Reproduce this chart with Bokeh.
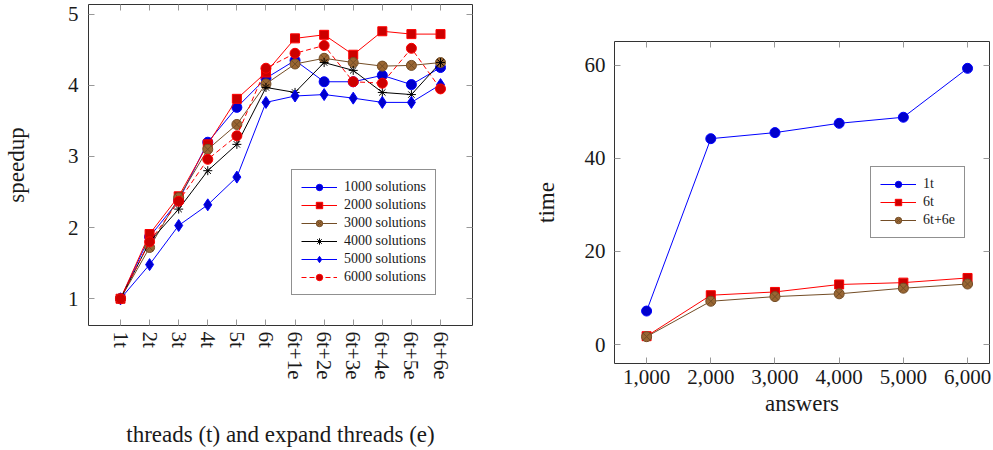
from bokeh.plotting import figure
from bokeh.models import (Range1d, FixedTicker, LinearAxis, Legend, LegendItem,
                          NumeralTickFormatter, CustomLabelingPolicy)
from bokeh.layouts import row
from bokeh.embed import file_html
from bokeh.resources import INLINE

# ---------------- data (left chart) ----------------
thread_labels = ["1t", "2t", "3t", "4t", "5t", "6t",
                 "6t+1e", "6t+2e", "6t+3e", "6t+4e", "6t+5e", "6t+6e"]
speedup_1000 = [1.0, 1.87, 2.38, 3.20, 3.69, 4.10, 4.35, 4.05, 4.05, 4.14, 4.01, 4.25]
speedup_2000 = [1.0, 1.91, 2.44, 3.17, 3.81, 4.18, 4.66, 4.71, 4.43, 4.76, 4.72, 4.72]
speedup_3000 = [1.0, 1.72, 2.42, 3.10, 3.45, 4.02, 4.30, 4.38, 4.32, 4.27, 4.28, 4.32]
speedup_4000 = [1.0, 1.80, 2.26, 2.80, 3.17, 3.97, 3.90, 4.32, 4.21, 3.90, 3.87, 4.32]
speedup_5000 = [1.0, 1.48, 2.03, 2.32, 2.71, 3.76, 3.85, 3.87, 3.82, 3.76, 3.76, 4.01]
speedup_6000 = [1.0, 1.80, 2.37, 2.96, 3.29, 4.24, 4.45, 4.56, 4.05, 4.03, 4.52, 3.95]
speedup_ticks = [1, 2, 3, 4, 5]

# ---------------- data (right chart) ----------------
answers = [1000, 2000, 3000, 4000, 5000, 6000]
time_1t = [7.2, 44.2, 45.5, 47.5, 48.8, 59.3]
time_6t = [1.8, 10.6, 11.3, 12.9, 13.3, 14.3]
time_6t6e = [1.7, 9.3, 10.3, 10.9, 12.1, 13.0]
time_ticks = [0, 20, 40, 60]

FONT = "Liberation Serif"
TICK_COLOR = "#999999"
TEXT_COLOR = "#1a1a1a"


def style_axis(ax):
    ax.major_label_text_font = FONT
    ax.major_label_text_font_size = "21px"
    ax.major_label_text_color = TEXT_COLOR
    ax.axis_label_text_font = FONT
    ax.axis_label_text_font_size = "23px"
    ax.axis_label_text_font_style = "normal"
    ax.axis_label_text_color = TEXT_COLOR
    ax.major_tick_in = 6
    ax.major_tick_out = 0
    ax.major_tick_line_color = TICK_COLOR
    ax.minor_tick_line_color = None
    ax.axis_line_color = None


def mirror_axis(ticker):
    # mirrored tick marks only (no labels drawn)
    ax = LinearAxis(ticker=ticker)
    ax.major_label_policy = CustomLabelingPolicy(code="return new Set()")
    ax.major_label_text_font_size = "1px"
    ax.major_label_standoff = 0
    ax.major_tick_in = 6
    ax.major_tick_out = 0
    ax.major_tick_line_color = TICK_COLOR
    ax.minor_tick_line_color = None
    ax.axis_line_color = None
    return ax


def base_fig(width, height, xr, yr, **kw):
    p = figure(width=width, height=height, x_range=xr, y_range=yr,
               output_backend="svg", toolbar_location=None, **kw)
    p.frame_align = False
    p.xgrid.visible = False
    p.ygrid.visible = False
    p.outline_line_color = "#333333"
    p.outline_line_width = 1
    p.background_fill_color = "white"
    p.border_fill_color = "white"
    return p


def make_legend(items, loc):
    lg = Legend(items=items, location=loc)
    lg.border_line_color = "#222222"
    lg.border_line_width = 1
    lg.background_fill_color = "white"
    lg.background_fill_alpha = 1
    lg.label_text_font = FONT
    lg.label_text_font_size = "14px"
    lg.label_text_color = TEXT_COLOR
    lg.glyph_width = 36
    lg.glyph_height = 16
    lg.label_height = 16
    lg.label_standoff = 7
    lg.spacing = 2
    lg.padding = 9
    lg.margin = 0
    return lg


# ---------------- left chart ----------------
xs = list(range(len(thread_labels)))
p1 = base_fig(476, 450, Range1d(-1.1, 12.1), Range1d(0.624, 5.136),
              min_border_left=86, min_border_right=0, min_border_top=4, min_border_bottom=123)

series_left = [
    ("1000 solutions", speedup_1000, "#0000FF", "circle", "#0000CC", "solid", 10),
    ("2000 solutions", speedup_2000, "#FF0000", "square", "#CC0000", "solid", 9),
    ("3000 solutions", speedup_3000, "#734D26", "circle_x", "#996633", "solid", 10),
    ("4000 solutions", speedup_4000, "#000000", "asterisk", "#000000", "solid", 9),
    ("5000 solutions", speedup_5000, "#0000FF", "diamond", "#0000CC", "solid", 12),
    ("6000 solutions", speedup_6000, "#FF0000", "circle", "#CC0000", "5 3", 10),
]
items_left = []
for name, ys, lc, mk, fc, dash, sz in series_left:
    lr = p1.line(xs, ys, line_color=lc, line_width=1, line_dash=dash)
    sr = p1.scatter(xs, ys, marker=mk, size=sz, fill_color=fc, line_color=lc, line_width=1)
    items_left.append(LegendItem(label=name, renderers=[lr, sr]))

xt1 = FixedTicker(ticks=xs)
yt1 = FixedTicker(ticks=speedup_ticks)
p1.xaxis.ticker = xt1
p1.xaxis.major_label_overrides = {i: lab for i, lab in enumerate(thread_labels)}
p1.xaxis.major_label_orientation = "vertical"
p1.xaxis.axis_label = "threads (t) and expand threads (e)"
p1.yaxis.ticker = yt1
p1.yaxis.axis_label = "speedup"
style_axis(p1.xaxis[0])
style_axis(p1.yaxis[0])
p1.xaxis.major_label_standoff = 6
p1.xaxis.axis_label_standoff = 40
p1.yaxis.major_label_standoff = 10
p1.yaxis.axis_label_standoff = 36
p1.add_layout(mirror_axis(xt1), "above")
p1.add_layout(mirror_axis(yt1), "right")
p1.add_layout(make_legend(items_left, (203, 30)))

# ---------------- right chart ----------------
p2 = base_fig(517, 450, Range1d(500, 6342), Range1d(-4.06, 65.06),
              min_border_left=138, min_border_right=0, min_border_top=41, min_border_bottom=87)

series_right = [
    ("1t", time_1t, "#0000FF", "circle", "#0000CC", 10),
    ("6t", time_6t, "#FF0000", "square", "#CC0000", 9),
    ("6t+6e", time_6t6e, "#734D26", "circle_x", "#996633", 10),
]
items_right = []
for name, ys, lc, mk, fc, sz in series_right:
    lr = p2.line(answers, ys, line_color=lc, line_width=1)
    sr = p2.scatter(answers, ys, marker=mk, size=sz, fill_color=fc, line_color=lc, line_width=1)
    items_right.append(LegendItem(label=name, renderers=[lr, sr]))

xt2 = FixedTicker(ticks=answers)
yt2 = FixedTicker(ticks=time_ticks)
p2.xaxis.ticker = xt2
p2.xaxis.formatter = NumeralTickFormatter(format="0,0")
p2.xaxis.axis_label = "answers"
p2.yaxis.ticker = yt2
p2.yaxis.axis_label = "time"
style_axis(p2.xaxis[0])
style_axis(p2.yaxis[0])
p2.xaxis.major_label_standoff = 6
p2.xaxis.axis_label_standoff = 4
p2.yaxis.major_label_standoff = 9
p2.yaxis.axis_label_standoff = 23
p2.add_layout(mirror_axis(xt2), "above")
p2.add_layout(mirror_axis(yt2), "right")
p2.add_layout(make_legend(items_right, (256, 125)))

layout = row(p1, p2)
open("out.html", "w").write(file_html(layout, INLINE))
